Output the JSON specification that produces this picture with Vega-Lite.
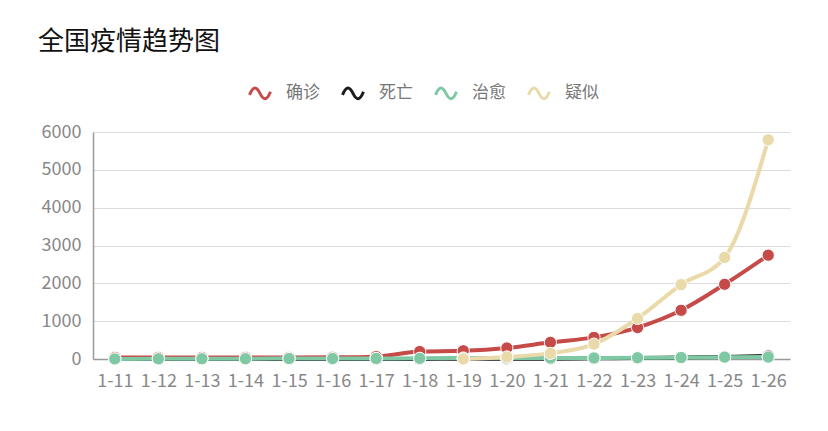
{
  "$schema": "https://vega.github.io/schema/vega-lite/v6.json",
  "description": "全国疫情趋势图",
  "background": "white",
  "autosize": {"type": "none"},
  "padding": {"left": 93, "top": 132, "right": 38, "bottom": 72},
  "width": 697,
  "height": 227,
  "title": {
    "text": "全国疫情趋势图",
    "anchor": "start",
    "frame": "group",
    "dx": -55,
    "offset": 26,
    "fontSize": 26,
    "fontWeight": "normal",
    "color": "#111",
    "font": "Noto Sans CJK SC"
  },
  "data": {
    "values": [
      {"date": "1-11", "s": "确诊", "v": 41}, {"date": "1-12", "s": "确诊", "v": 41},
      {"date": "1-13", "s": "确诊", "v": 41}, {"date": "1-14", "s": "确诊", "v": 41},
      {"date": "1-15", "s": "确诊", "v": 41}, {"date": "1-16", "s": "确诊", "v": 45},
      {"date": "1-17", "s": "确诊", "v": 62}, {"date": "1-18", "s": "确诊", "v": 198},
      {"date": "1-19", "s": "确诊", "v": 218}, {"date": "1-20", "s": "确诊", "v": 291},
      {"date": "1-21", "s": "确诊", "v": 440}, {"date": "1-22", "s": "确诊", "v": 571},
      {"date": "1-23", "s": "确诊", "v": 830}, {"date": "1-24", "s": "确诊", "v": 1287},
      {"date": "1-25", "s": "确诊", "v": 1975}, {"date": "1-26", "s": "确诊", "v": 2744},
      {"date": "1-11", "s": "死亡", "v": 1}, {"date": "1-12", "s": "死亡", "v": 1},
      {"date": "1-13", "s": "死亡", "v": 1}, {"date": "1-14", "s": "死亡", "v": 1},
      {"date": "1-15", "s": "死亡", "v": 2}, {"date": "1-16", "s": "死亡", "v": 2},
      {"date": "1-17", "s": "死亡", "v": 2}, {"date": "1-18", "s": "死亡", "v": 3},
      {"date": "1-19", "s": "死亡", "v": 4}, {"date": "1-20", "s": "死亡", "v": 6},
      {"date": "1-21", "s": "死亡", "v": 9}, {"date": "1-22", "s": "死亡", "v": 17},
      {"date": "1-23", "s": "死亡", "v": 25}, {"date": "1-24", "s": "死亡", "v": 41},
      {"date": "1-25", "s": "死亡", "v": 56}, {"date": "1-26", "s": "死亡", "v": 80},
      {"date": "1-11", "s": "治愈", "v": 2}, {"date": "1-12", "s": "治愈", "v": 5},
      {"date": "1-13", "s": "治愈", "v": 6}, {"date": "1-14", "s": "治愈", "v": 7},
      {"date": "1-15", "s": "治愈", "v": 12}, {"date": "1-16", "s": "治愈", "v": 12},
      {"date": "1-17", "s": "治愈", "v": 15}, {"date": "1-18", "s": "治愈", "v": 17},
      {"date": "1-19", "s": "治愈", "v": 25}, {"date": "1-20", "s": "治愈", "v": 25},
      {"date": "1-21", "s": "治愈", "v": 28}, {"date": "1-22", "s": "治愈", "v": 28},
      {"date": "1-23", "s": "治愈", "v": 34}, {"date": "1-24", "s": "治愈", "v": 38},
      {"date": "1-25", "s": "治愈", "v": 49}, {"date": "1-26", "s": "治愈", "v": 51},
      {"date": "1-19", "s": "疑似", "v": 0}, {"date": "1-20", "s": "疑似", "v": 54},
      {"date": "1-21", "s": "疑似", "v": 149}, {"date": "1-22", "s": "疑似", "v": 393},
      {"date": "1-23", "s": "疑似", "v": 1072}, {"date": "1-24", "s": "疑似", "v": 1965},
      {"date": "1-25", "s": "疑似", "v": 2684}, {"date": "1-26", "s": "疑似", "v": 5794}
    ]
  },
  "encoding": {
    "x": {
      "field": "date",
      "type": "ordinal",
      "title": null,
      "scale": {"type": "point", "padding": 0.5},
      "axis": {
        "labelAngle": 0,
        "labelOverlap": false,
        "ticks": false,
        "labelPadding": 13,
        "labelFontSize": 18,
        "labelColor": "#888",
        "domainColor": "#999",
        "domainWidth": 1.5
      }
    },
    "y": {
      "field": "v",
      "type": "quantitative",
      "title": null,
      "scale": {"domain": [0, 6000], "nice": false},
      "axis": {
        "values": [0, 1000, 2000, 3000, 4000, 5000, 6000],
        "format": "d",
        "ticks": false,
        "labelPadding": 12,
        "labelFontSize": 18,
        "labelColor": "#888",
        "domainColor": "#999",
        "domainWidth": 1.5,
        "gridColor": "#dcdcdc"
      }
    },
    "color": {
      "field": "s",
      "type": "nominal",
      "sort": ["确诊", "死亡", "治愈", "疑似"],
      "scale": {
        "domain": ["确诊", "死亡", "治愈", "疑似"],
        "range": ["#c54a48", "#1c1c1c", "#7ec8a4", "#ead9a9"]
      },
      "legend": {
        "title": null,
        "orient": "none",
        "direction": "horizontal",
        "columns": 4,
        "legendX": 155,
        "legendY": -51,
        "symbolType": "M -1 0.15 C -0.65 -0.7 -0.35 -0.7 0 0 C 0.35 0.7 0.65 0.7 1 -0.15",
        "symbolSize": 441,
        "symbolStrokeWidth": 3,
        "symbolFillColor": "transparent",
        "labelOffset": 14,
        "columnPadding": 16,
        "labelFontSize": 17,
        "labelColor": "#777",
        "encode": {
          "symbols": {
            "update": {
              "fill": {"value": "transparent"},
              "fillOpacity": {"value": 0},
              "stroke": {"scale": "color", "field": "value"},
              "strokeWidth": {"value": 3}
            }
          }
        }
      }
    }
  },
  "layer": [
    {
      "mark": {"type": "line", "interpolate": "monotone", "strokeWidth": 4}
    },
    {
      "mark": {"type": "point", "filled": true, "size": 150, "opacity": 1, "stroke": "white", "strokeWidth": 1}
    }
  ],
  "config": {
    "font": "Noto Sans CJK SC",
    "view": {"stroke": null},
    "axis": {"labelFont": "Noto Sans CJK SC"},
    "legend": {"labelFont": "Noto Sans CJK SC"}
  }
}
